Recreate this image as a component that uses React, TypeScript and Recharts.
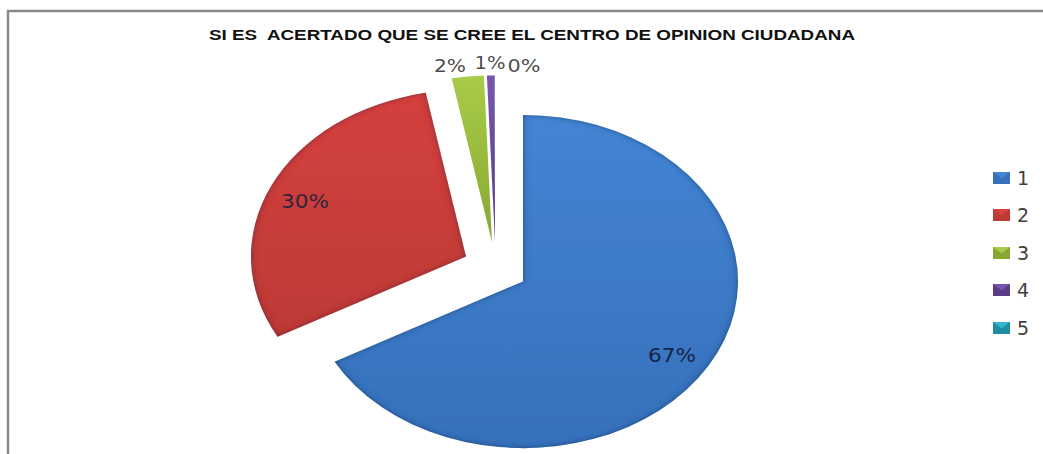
import React from "react";
import { PieChart, Pie, Sector, Legend } from "recharts";

const categories = ["1", "2", "3", "4", "5"];
const shares = [67, 30, 2.4, 0.58, 0.02];
const title = "SI ES  ACERTADO QUE SE CREE EL CENTRO DE OPINION CIUDADANA";

const gradients = ["blue", "red", "green", "purple", "teal"];
const stops = [
  ["#4484d4", "#3670ba"],
  ["#d4413e", "#bd3a36"],
  ["#a8cc48", "#86a833"],
  ["#7a55ad", "#5b3c8a"],
  ["#35b4cf", "#1f8ba5"],
];
const explode = [
  [0, 0],
  [-57, -25],
  [-31, -39.5],
  [-28, -39.5],
  [-28, -39.5],
];
const labelPlace = [
  { dx: 149, dy: 73.5, w: 48, size: 19 },
  { dx: -218, dy: -80.5, w: 48, size: 19 },
  { dx: -73, dy: -216.5, w: 32, size: 18 },
  { dx: -33, dy: -219.5, w: 31, size: 18 },
  { dx: 1, dy: -216.5, w: 33, size: 18 },
];
const SQUASH = 0.775;

const data = categories.map((name, i) => ({
  name,
  value: shares[i],
  fill: `url(#g-${gradients[i]})`,
  color: stops[i][0],
}));

const sliceShape = (props: any) => {
  const i = categories.indexOf(props.name ?? props.payload?.name);
  const [dx, dy] = explode[i] ?? [0, 0];
  const { cx, cy, innerRadius, outerRadius, startAngle, endAngle, fill } = props;
  return (
    <g transform={`translate(${cx + dx} ${cy + dy}) scale(1 ${SQUASH}) translate(${-cx} ${-cy})`}>
      <Sector
        cx={cx}
        cy={cy}
        innerRadius={innerRadius}
        outerRadius={outerRadius}
        startAngle={startAngle}
        endAngle={endAngle}
        fill={fill}
        stroke="none"
        filter={i < 2 ? "url(#bevel)" : undefined}
      />
    </g>
  );
};

const sliceLabel = (props: any) => {
  const { cx, cy, index, percent } = props;
  const p = labelPlace[index];
  return (
    <text
      x={cx + p.dx}
      y={cy + p.dy}
      textAnchor="middle"
      dominantBaseline="central"
      fontFamily="'DejaVu Sans'"
      fontSize={p.size}
      fill={index < 2 ? "#10203c" : "#404040"}
      fillOpacity={index === 1 ? 0.85 : 0.95}
      textLength={p.w}
      lengthAdjust="spacingAndGlyphs"
      key={index}
    >
      {`${Math.round(percent * 100)}%`}
    </text>
  );
};

const legendContent = (props: any) => (
  <div>
    {(props.payload ?? []).map((entry: any, i: number) => (
      <div key={entry.value} style={{ height: 37.5, display: "flex", alignItems: "center" }}>
        <svg width={17} height={12} style={{ display: "block" }}>
          <rect width={17} height={12} fill={stops[i][1]} />
          <path d="M0 0H17L8.5 6.5Z" fill={stops[i][0]} />
        </svg>
        <span
          style={{
            marginLeft: 7,
            fontFamily: "'DejaVu Sans'",
            fontSize: 19,
            color: "#404040",
            lineHeight: "20px",
          }}
        >
          {entry.value}
        </span>
      </div>
    ))}
  </div>
);

export default function App() {
  return (
    <div style={{ position: "absolute", left: 0, top: 0, width: 1043, height: 454, overflow: "hidden", background: "#fff" }}>
      <PieChart width={1043} height={454} margin={{ top: 0, right: 0, bottom: 0, left: 0 }}>
        <defs>
          {gradients.map((g, i) => (
            <linearGradient id={`g-${g}`} key={g} x1="0" y1="0" x2="0" y2="1">
              <stop offset="0%" stopColor={stops[i][0]} />
              <stop offset="100%" stopColor={stops[i][1]} />
            </linearGradient>
          ))}
          <filter id="bevel" x="-5%" y="-5%" width="110%" height="110%">
            <feGaussianBlur in="SourceAlpha" stdDeviation="3.5" result="blur" />
            <feComposite in="SourceAlpha" in2="blur" operator="out" result="edge" />
            <feFlood floodColor="#0c1a34" floodOpacity="0.75" />
            <feComposite in2="edge" operator="in" result="shade" />
            <feMerge>
              <feMergeNode in="SourceGraphic" />
              <feMergeNode in="shade" />
            </feMerge>
          </filter>
        </defs>
        <path d="M8 454V11H1043" fill="none" stroke="#8a8a8a" strokeWidth={2.5} />
        <text
          x={532}
          y={35}
          textAnchor="middle"
          dominantBaseline="central"
          fontFamily="'Liberation Sans'"
          fontWeight="bold"
          fontSize={14}
          fill="#111"
          textLength={646}
          lengthAdjust="spacingAndGlyphs"
          xmlSpace="preserve"
        >
          {title}
        </text>
        <Pie
          data={data}
          dataKey="value"
          nameKey="name"
          cx={523}
          cy={281.5}
          innerRadius={0}
          outerRadius={215}
          startAngle={90}
          endAngle={-270}
          stroke="none"
          isAnimationActive={false}
          shape={sliceShape}
          label={sliceLabel}
          labelLine={false}
        />
        <Legend
          layout="vertical"
          align="right"
          verticalAlign="top"
          content={legendContent}
          wrapperStyle={{ position: "absolute", left: 993, top: 159, width: 50 }}
        />
      </PieChart>
    </div>
  );
}
